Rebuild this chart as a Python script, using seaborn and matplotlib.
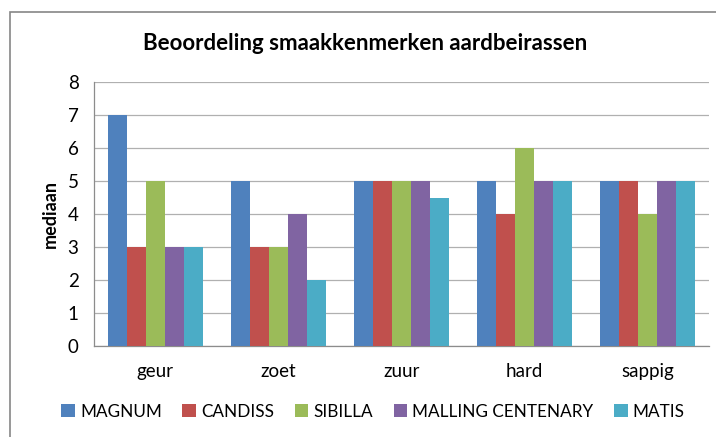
import pandas as pd
import numpy as np
import matplotlib
matplotlib.use('Agg')
import matplotlib.pyplot as plt
import seaborn as sns
from matplotlib.patches import Rectangle

# data
kenmerken = ['geur', 'zoet', 'zuur', 'hard', 'sappig']
rassen = ['MAGNUM', 'CANDISS', 'SIBILLA', 'MALLING CENTENARY', 'MATIS']
magnum = [7, 5, 5, 5, 5]
candiss = [3, 3, 5, 4, 5]
sibilla = [5, 3, 5, 6, 4]
malling = [3, 4, 5, 5, 5]
matis = [3, 2, 4.5, 5, 5]

kleuren = ['#4F81BD', '#C0504D', '#9BBB59', '#8064A2', '#4BACC6']

rows = []
for ras, vals in zip(rassen, [magnum, candiss, sibilla, malling, matis]):
    for k, v in zip(kenmerken, vals):
        rows.append({'kenmerk': k, 'ras': ras, 'mediaan': v})
df = pd.DataFrame(rows)

sns.set_style('white')
plt.rcParams['font.family'] = ['Lato', 'DejaVu Sans']
plt.rcParams['text.color'] = 'black'
plt.rcParams['xtick.labelcolor'] = 'black'
plt.rcParams['ytick.labelcolor'] = 'black'
plt.rcParams['axes.labelcolor'] = 'black'

fig = plt.figure(figsize=(7.16, 4.37), dpi=100)
ax = fig.add_axes([0.131, 0.208, 0.859, 0.604])

sns.barplot(data=df, x='kenmerk', y='mediaan', hue='ras', order=kenmerken,
            hue_order=rassen, palette=kleuren, width=0.77, saturation=1,
            linewidth=0, ax=ax, legend=True, zorder=3)

ax.set_ylim(0, 8)
ax.set_xlim(-0.5, 4.5)
ax.set_yticks(range(0, 9))
ax.yaxis.grid(True, color='#b0b0b0', linewidth=0.9, zorder=0)
ax.set_axisbelow(True)
for s in ['top', 'right']:
    ax.spines[s].set_visible(False)
for s in ['left', 'bottom']:
    ax.spines[s].set_color('#8c8c8c')
    ax.spines[s].set_linewidth(0.9)

ax.set_xticks(np.arange(-0.5, 5, 1), minor=True)
ax.tick_params(axis='x', which='major', length=0, pad=12, labelsize=13.5)
ax.tick_params(axis='x', which='minor', length=6, color='#8c8c8c', direction='out')
ax.tick_params(axis='y', length=6, color='#8c8c8c', direction='out', labelsize=13.5, pad=5)
ax.set_xlabel('')
ax.set_ylabel('mediaan', fontsize=13, fontweight='bold', labelpad=6)

fig.suptitle('Beoordeling smaakkenmerken aardbeirassen', x=0.51, y=0.925,
             fontsize=16, fontweight='bold')

ax.legend(loc='upper center', bbox_to_anchor=(0.454, -0.16), ncol=5, frameon=False,
          fontsize=12.3, handlelength=0.8, handleheight=0.8, handletextpad=0.3,
          columnspacing=1.2)

fig.patches.append(Rectangle((10 / 716, -0.1), 1.2, 1.1 - 12 / 437,
                             transform=fig.transFigure, fill=False,
                             edgecolor='#868686', linewidth=1.2))

fig.savefig('out.png', dpi=100)
